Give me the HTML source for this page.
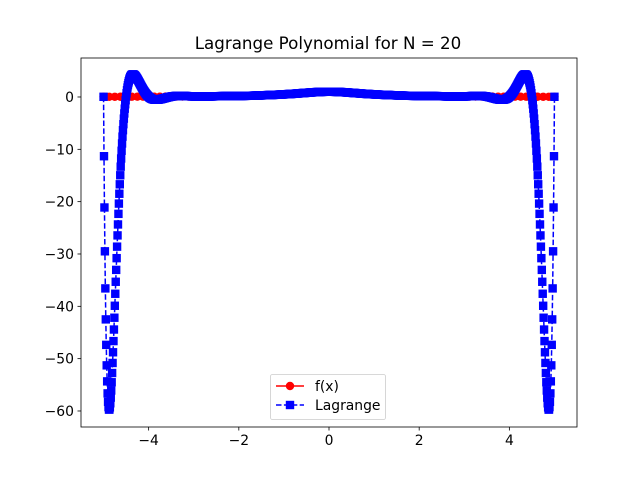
<!DOCTYPE html>
<html><head><meta charset="utf-8"><style>
body{margin:0;background:#fff;}
svg{display:block;font-family:"DejaVu Sans","Liberation Sans",sans-serif;}
</style></head><body>
<svg id="chart" width="640" height="480" viewBox="0 0 640 480" xmlns="http://www.w3.org/2000/svg">
<rect width="640" height="480" fill="#fff"/>
<text x="328" y="49" font-size="16.7" text-anchor="middle" fill="#000">Lagrange Polynomial for N = 20</text>
<g id="plot"></g>
</svg>
<script>
const fY = [0.038462,0.040379,0.042381,0.044661,0.047059,0.049651,0.052459,0.055507,0.058824,0.062439,0.066390,0.070718,0.075472,0.080706,0.086486,0.092888,0.1,0.107926,0.116788,0.126733,0.137931,0.150588,0.164948,0.181303,0.2,0.221453,0.246154,0.274678,0.307692,0.345946,0.390244,0.441379,0.5,0.566372,0.64,0.719101,0.8,0.876712,0.941176,0.984615,1,0.984615,0.941176,0.876712,0.8,0.719101,0.64,0.566372,0.5,0.441379,0.390244,0.345946,0.307692,0.274678,0.246154,0.221453,0.2,0.181303,0.164948,0.150588,0.137931,0.126733,0.116788,0.107926,0.1,0.092888,0.086486,0.080706,0.075472,0.070718,0.066390,0.062439,0.058824,0.055507,0.052459,0.049651,0.047059,0.044661,0.042381,0.040379,0.038462];
const fXStart = -5, fXEnd = 5;
const nodeX = [-5,-4.5,-4,-3.5,-3,-2.5,-2,-1.5,-1,-0.5,0,0.5,1,1.5,2,2.5,3,3.5,4,4.5,5];
const nodeY = [0.038462,0.047059,0.058824,0.075472,0.1,0.137931,0.2,0.307692,0.5,0.8,1,0.8,0.5,0.307692,0.2,0.137931,0.1,0.075472,0.058824,0.047059,0.038462];
const xTicks = [-4,-2,0,2,4];
const yTicks = [0,-10,-20,-30,-40,-50,-60];

const NS="http://www.w3.org/2000/svg";
const L=81,R=577,T=58,B=427;
const xMin=-5.5,xMax=5.5,yMin=-63.06,yMax=7.45;
const sx=v=>L+(v-xMin)/(xMax-xMin)*(R-L);
const sy=v=>B-(v-yMin)/(yMax-yMin)*(B-T);
const plot=document.getElementById('plot');
function mk(tag,attrs,parent){const e=document.createElementNS(NS,tag);for(const k in attrs)e.setAttribute(k,attrs[k]);(parent||plot).appendChild(e);return e;}
function lagr(x){let s=0;for(let i=0;i<nodeX.length;i++){let p=nodeY[i];for(let j=0;j<nodeX.length;j++){if(j!==i)p*=(x-nodeX[j])/(nodeX[i]-nodeX[j]);}s+=p;}return s;}

const clip=mk('clipPath',{id:'cp'});mk('rect',{x:L,y:T,width:R-L,height:B-T},clip);
const g=mk('g',{'clip-path':'url(#cp)'});

const fX=fY.map((_,i)=>fXStart+(fXEnd-fXStart)*i/(fY.length-1));
const fLine=mk('polyline',{points:fX.map((x,i)=>sx(x)+','+sy(fY[i])).join(' '),fill:'none',stroke:'#ff0000','stroke-width':1.5},g);


fX.forEach((x,i)=>{
  const c=mk('circle',{cx:sx(x),cy:sy(fY[i]),r:4.2,fill:'#ff0000'},g);
  
  
});

const n=1000;const lx=[],ly=[];
for(let k=0;k<n;k++){const x=nodeX[0]+(nodeX[nodeX.length-1]-nodeX[0])*k/(n-1);lx.push(x);ly.push(lagr(x));}
const lLine=mk('polyline',{points:lx.map((x,i)=>sx(x)+','+sy(ly[i])).join(' '),fill:'none',stroke:'#0000ff','stroke-width':1.5,'stroke-dasharray':'5.5,2.4'},g);


lx.forEach((x,i)=>{
  const r=mk('rect',{x:sx(x)-4.2,y:sy(ly[i])-4.2,width:8.4,height:8.4,fill:'#0000ff'},g);
  
  
});

const fr=mk('rect',{x:L,y:T,width:R-L,height:B-T,fill:'none',stroke:'#000','stroke-width':0.8});



xTicks.forEach(t=>{
  const tl=mk('line',{x1:sx(t),x2:sx(t),y1:B,y2:B+3.5,stroke:'#000','stroke-width':0.8});
  
  
  const tx=mk('text',{x:sx(t),y:B+18,'font-size':13.9,'text-anchor':'middle',fill:'#000'});
  tx.textContent=(t<0?'\u2212'+(-t):String(t));
  
  
});
yTicks.forEach(t=>{
  const tl=mk('line',{x1:L-3.5,x2:L,y1:sy(t),y2:sy(t),stroke:'#000','stroke-width':0.8});
  
  
  const tx=mk('text',{x:L-7,y:sy(t)+5,'font-size':13.9,'text-anchor':'end',fill:'#000'});
  tx.textContent=(t<0?'\u2212'+(-t):String(t));
  
  
});

const lg=mk('g',{});


mk('rect',{x:270.5,y:374.5,width:115,height:45,rx:2,fill:'#fff','fill-opacity':0.8,stroke:'#ccc','stroke-width':0.8},lg);
const e1=mk('g',{},lg);


mk('line',{x1:276,x2:304,y1:386,y2:386,stroke:'#ff0000','stroke-width':1.5},e1);
mk('circle',{cx:290,cy:386,r:4.2,fill:'#ff0000'},e1);
const t1=mk('text',{x:315,y:391,'font-size':13.9,fill:'#000'},e1);t1.textContent='f(x)';
const e2=mk('g',{},lg);


mk('line',{x1:276,x2:304,y1:405,y2:405,stroke:'#0000ff','stroke-width':1.5,'stroke-dasharray':'5.5,2.4'},e2);
mk('rect',{x:285.8,y:400.8,width:8.4,height:8.4,fill:'#0000ff'},e2);
const t2=mk('text',{x:315,y:410,'font-size':13.9,fill:'#000'},e2);t2.textContent='Lagrange';
</script>
</body></html>
